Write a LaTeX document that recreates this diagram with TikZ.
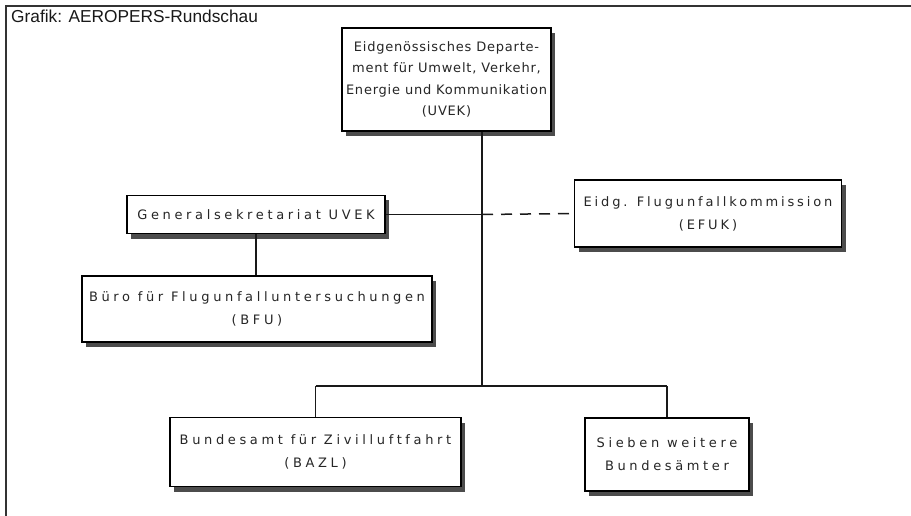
\documentclass[tikz,border=0pt]{standalone}
\usepackage{fontspec}
\setmainfont{Liberation Sans}
\newfontfamily\boxfont[LetterSpace=28]{DejaVu Sans}
\newfontfamily\boxfontmid[LetterSpace=22]{DejaVu Sans}
\newfontfamily\boxfonttight[LetterSpace=6]{DejaVu Sans}
\usetikzlibrary{shadows}
\begin{document}
\begin{tikzpicture}[x=1pt,y=-1pt,
  orgbox/.style={draw=black, line width=1.4pt, fill=white, inner sep=0pt,
    align=center, text=black!85, font=\boxfont\fontsize{13}{23}\selectfont,
    drop shadow={shadow xshift=4pt, shadow yshift=-5pt, fill=black!70, opacity=1}},
  conn/.style={line width=1.5pt, black!90}
]
\useasboundingbox (0,0) rectangle (911,516);
\fill[white] (0,0) rectangle (911,516);
% frame
\draw[line width=1.3pt, black!80] (6,516) -- (6,6) -- (911,6);
\node[anchor=west, inner sep=0pt, text=black!90] (title) at (11,16) {\fontsize{17.3}{20}\selectfont Grafik: AEROPERS-Rundschau};

\node[orgbox, font=\boxfonttight\fontsize{13}{21.5}\selectfont, minimum width=209pt, minimum height=103pt] (uvek) at (446.5,79.5)
  {Eidgenössisches Departe-\\ment für Umwelt, Verkehr,\\Energie und Kommunikation\\(UVEK)};
\node[orgbox, minimum width=258pt, minimum height=38pt] (gen) at (256,214.5)
  {Generalsekretariat UVEK};
\node[orgbox, font=\boxfontmid\fontsize{13}{23}\selectfont, minimum width=267pt, minimum height=67pt] (efuk) at (708,213.5)
  {Eidg. Flugunfallkommission\\(EFUK)};
\node[orgbox, minimum width=350pt, minimum height=66pt] (bfu) at (257,309)
  {Büro für Flugunfalluntersuchungen\\(BFU)};
\node[orgbox, minimum width=291pt, minimum height=69pt] (bazl) at (315.5,452)
  {Bundesamt für Zivilluftfahrt\\(BAZL)};
\node[orgbox, minimum width=164pt, minimum height=73pt] (sieben) at (667,454.5)
  {Sieben weitere\\Bundesämter};

\coordinate (j) at (482,386);
\coordinate (busL) at (315.5,386);
\coordinate (busR) at (667,386);

\draw[conn] (j |- uvek.south) -- (j);
\draw[conn] (busL) -- (busR);
\draw[conn] (busL) -- (bazl.north);
\draw[conn] (busR) -- (sieben.north);
\draw[conn] (gen.east) -- (j |- gen.east);
\draw[conn, dash pattern=on 11pt off 8pt] (j |- gen.east) -- (efuk.west);
\draw[conn] (gen.south) -- (gen.south |- bfu.north);
\end{tikzpicture}
\end{document}
